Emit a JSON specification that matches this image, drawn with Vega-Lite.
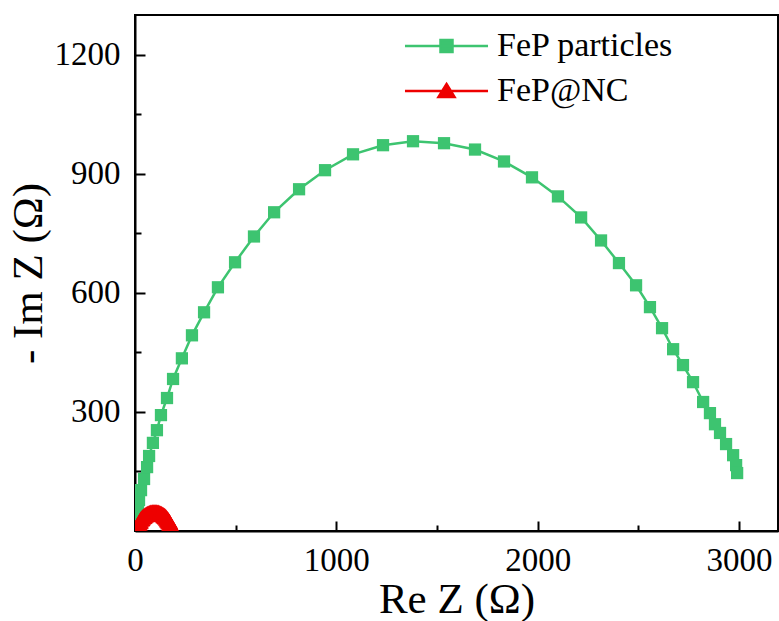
{
  "$schema": "https://vega.github.io/schema/vega-lite/v6.json",
  "width": 643,
  "height": 516,
  "autosize": "none",
  "padding": {"left": 135, "top": 15, "right": 1, "bottom": 90},
  "background": "white",
  "config": {
    "view": {"stroke": "black", "strokeWidth": 2},
    "font": "Liberation Serif",
    "legend": {"labelLimit": 500}
  },
  "data": {
    "values": [
      {"series": "FeP particles", "x": 5, "y": 15},
      {"series": "FeP particles", "x": 10, "y": 35},
      {"series": "FeP particles", "x": 15, "y": 55},
      {"series": "FeP particles", "x": 20, "y": 78},
      {"series": "FeP particles", "x": 30, "y": 103},
      {"series": "FeP particles", "x": 45, "y": 131},
      {"series": "FeP particles", "x": 60, "y": 161},
      {"series": "FeP particles", "x": 70, "y": 189},
      {"series": "FeP particles", "x": 89, "y": 222},
      {"series": "FeP particles", "x": 109, "y": 254},
      {"series": "FeP particles", "x": 129, "y": 292},
      {"series": "FeP particles", "x": 159, "y": 335},
      {"series": "FeP particles", "x": 189, "y": 383},
      {"series": "FeP particles", "x": 233, "y": 435},
      {"series": "FeP particles", "x": 283, "y": 493},
      {"series": "FeP particles", "x": 343, "y": 551},
      {"series": "FeP particles", "x": 412, "y": 614},
      {"series": "FeP particles", "x": 497, "y": 677},
      {"series": "FeP particles", "x": 591, "y": 742},
      {"series": "FeP particles", "x": 691, "y": 803},
      {"series": "FeP particles", "x": 815, "y": 861},
      {"series": "FeP particles", "x": 944, "y": 909},
      {"series": "FeP particles", "x": 1083, "y": 949},
      {"series": "FeP particles", "x": 1232, "y": 972},
      {"series": "FeP particles", "x": 1381, "y": 982},
      {"series": "FeP particles", "x": 1535, "y": 977},
      {"series": "FeP particles", "x": 1689, "y": 961},
      {"series": "FeP particles", "x": 1833, "y": 931},
      {"series": "FeP particles", "x": 1972, "y": 891},
      {"series": "FeP particles", "x": 2101, "y": 843},
      {"series": "FeP particles", "x": 2216, "y": 790},
      {"series": "FeP particles", "x": 2315, "y": 732},
      {"series": "FeP particles", "x": 2404, "y": 675},
      {"series": "FeP particles", "x": 2489, "y": 619},
      {"series": "FeP particles", "x": 2558, "y": 564},
      {"series": "FeP particles", "x": 2618, "y": 511},
      {"series": "FeP particles", "x": 2673, "y": 458},
      {"series": "FeP particles", "x": 2722, "y": 418},
      {"series": "FeP particles", "x": 2772, "y": 375},
      {"series": "FeP particles", "x": 2822, "y": 325},
      {"series": "FeP particles", "x": 2856, "y": 297},
      {"series": "FeP particles", "x": 2881, "y": 269},
      {"series": "FeP particles", "x": 2906, "y": 247},
      {"series": "FeP particles", "x": 2936, "y": 219},
      {"series": "FeP particles", "x": 2971, "y": 191},
      {"series": "FeP particles", "x": 2986, "y": 166},
      {"series": "FeP particles", "x": 2991, "y": 146},
      {"series": "FeP@NC", "x": 12, "y": 7},
      {"series": "FeP@NC", "x": 14, "y": 13},
      {"series": "FeP@NC", "x": 16, "y": 16},
      {"series": "FeP@NC", "x": 19, "y": 20},
      {"series": "FeP@NC", "x": 22, "y": 24},
      {"series": "FeP@NC", "x": 25, "y": 26},
      {"series": "FeP@NC", "x": 29, "y": 30},
      {"series": "FeP@NC", "x": 33, "y": 32},
      {"series": "FeP@NC", "x": 37, "y": 35},
      {"series": "FeP@NC", "x": 42, "y": 37},
      {"series": "FeP@NC", "x": 46, "y": 39},
      {"series": "FeP@NC", "x": 51, "y": 41},
      {"series": "FeP@NC", "x": 56, "y": 42},
      {"series": "FeP@NC", "x": 61, "y": 44},
      {"series": "FeP@NC", "x": 66, "y": 45},
      {"series": "FeP@NC", "x": 71, "y": 46},
      {"series": "FeP@NC", "x": 76, "y": 47},
      {"series": "FeP@NC", "x": 81, "y": 47},
      {"series": "FeP@NC", "x": 86, "y": 48},
      {"series": "FeP@NC", "x": 91, "y": 48},
      {"series": "FeP@NC", "x": 96, "y": 48},
      {"series": "FeP@NC", "x": 101, "y": 48},
      {"series": "FeP@NC", "x": 106, "y": 48},
      {"series": "FeP@NC", "x": 111, "y": 47},
      {"series": "FeP@NC", "x": 116, "y": 47},
      {"series": "FeP@NC", "x": 121, "y": 46},
      {"series": "FeP@NC", "x": 126, "y": 45},
      {"series": "FeP@NC", "x": 131, "y": 44},
      {"series": "FeP@NC", "x": 136, "y": 42},
      {"series": "FeP@NC", "x": 141, "y": 41},
      {"series": "FeP@NC", "x": 146, "y": 39},
      {"series": "FeP@NC", "x": 150, "y": 37},
      {"series": "FeP@NC", "x": 154, "y": 35},
      {"series": "FeP@NC", "x": 158, "y": 33},
      {"series": "FeP@NC", "x": 162, "y": 30},
      {"series": "FeP@NC", "x": 165, "y": 28},
      {"series": "FeP@NC", "x": 168, "y": 26},
      {"series": "FeP@NC", "x": 171, "y": 23},
      {"series": "FeP@NC", "x": 174, "y": 19},
      {"series": "FeP@NC", "x": 176, "y": 16},
      {"series": "FeP@NC", "x": 178, "y": 13},
      {"series": "FeP@NC", "x": 180, "y": 7},
      {"series": "FeP@NC", "x": 181, "y": 3}
    ]
  },
  "layer": [
    {
      "mark": {"type": "line", "strokeWidth": 2.5, "clip": true},
      "encoding": {
        "x": {
          "field": "x", "type": "quantitative",
          "scale": {"domain": [0, 3194], "nice": false},
          "axis": {
            "orient": "bottom", "values": [500, 1500, 2500], "labels": false, "domain": false,
            "grid": false, "ticks": true, "tickSize": -6, "tickWidth": 2, "tickColor": "black", "title": null
          }
        },
        "y": {
          "field": "y", "type": "quantitative",
          "scale": {"domain": [0, 1300], "nice": false},
          "axis": {
            "orient": "left", "values": [150, 450, 750, 1050], "labels": false, "domain": false,
            "grid": false, "ticks": true, "tickSize": -6, "tickWidth": 2, "tickColor": "black", "title": null
          }
        },
        "color": {"field": "series", "type": "nominal",
          "scale": {"domain": ["FeP particles", "FeP@NC"], "range": ["#3DC470", "#EE0000"]},
          "legend": {
            "orient": "none", "legendX": 270, "legendY": 14, "title": null,
            "symbolSize": 150, "symbolStrokeWidth": 2.5, "labelLimit": 500,
            "labelFont": "Liberation Serif", "labelFontSize": 34, "labelColor": "black",
            "labelOffset": 58, "rowPadding": 11, "padding": 0,
            "encode": {
              "symbols": {
                "update": {
                  "shape": {"signal": "datum.value === 'FeP particles' ? 'M-6.78,0H6.78M-0.98,-0.98H0.98V0.98H-0.98Z' : 'M-6.78,0H6.78M0,-1.14L1.31,0.98H-1.31Z'"},
                  "x": {"value": 41.5},
                  "strokeWidth": {"value": 2.5},
                  "opacity": {"value": 1}
                }
              }
            }
          }
        }
      }
    },
    {
      "transform": [{"filter": "datum.series === 'FeP particles'"}],
      "mark": {"type": "point", "filled": true, "opacity": 1, "clip": true, "shape": "square", "size": 150},
      "encoding": {
        "x": {
          "field": "x", "type": "quantitative",
          "axis": {
            "orient": "bottom", "values": [0, 1000, 2000, 3000], "grid": false, "format": "d",
            "domainColor": "black", "domainWidth": 2,
            "tickSize": -10, "tickWidth": 2, "tickColor": "black",
            "labelFont": "Liberation Serif", "labelFontSize": 33, "labelColor": "black", "labelPadding": 23,
            "labelFlush": false,
            "title": "Re Z (Ω)", "titleFont": "Liberation Serif", "titleFontSize": 43,
            "titleFontWeight": "normal", "titleColor": "black", "titlePadding": 1
          }
        },
        "y": {
          "field": "y", "type": "quantitative",
          "axis": {
            "orient": "left", "values": [300, 600, 900, 1200], "grid": false, "format": "d",
            "domainColor": "black", "domainWidth": 2,
            "tickSize": -10, "tickWidth": 2, "tickColor": "black",
            "labelFont": "Liberation Serif", "labelFontSize": 33, "labelColor": "black", "labelPadding": 25,
            "title": "- Im Z (Ω)", "titleFont": "Liberation Serif", "titleFontSize": 43,
            "titleFontWeight": "normal", "titleColor": "black", "titlePadding": 4
          }
        },
        "color": {"field": "series", "type": "nominal"}
      }
    },
    {
      "transform": [{"filter": "datum.series === 'FeP@NC'"}],
      "mark": {"type": "point", "filled": true, "opacity": 1, "clip": true, "shape": "triangle-up", "size": 320},
      "encoding": {
        "x": {"field": "x", "type": "quantitative", "axis": null},
        "y": {"field": "y", "type": "quantitative", "axis": null},
        "color": {"field": "series", "type": "nominal"}
      }
    }
  ],
  "resolve": {"axis": {"x": "independent", "y": "independent"}}
}
